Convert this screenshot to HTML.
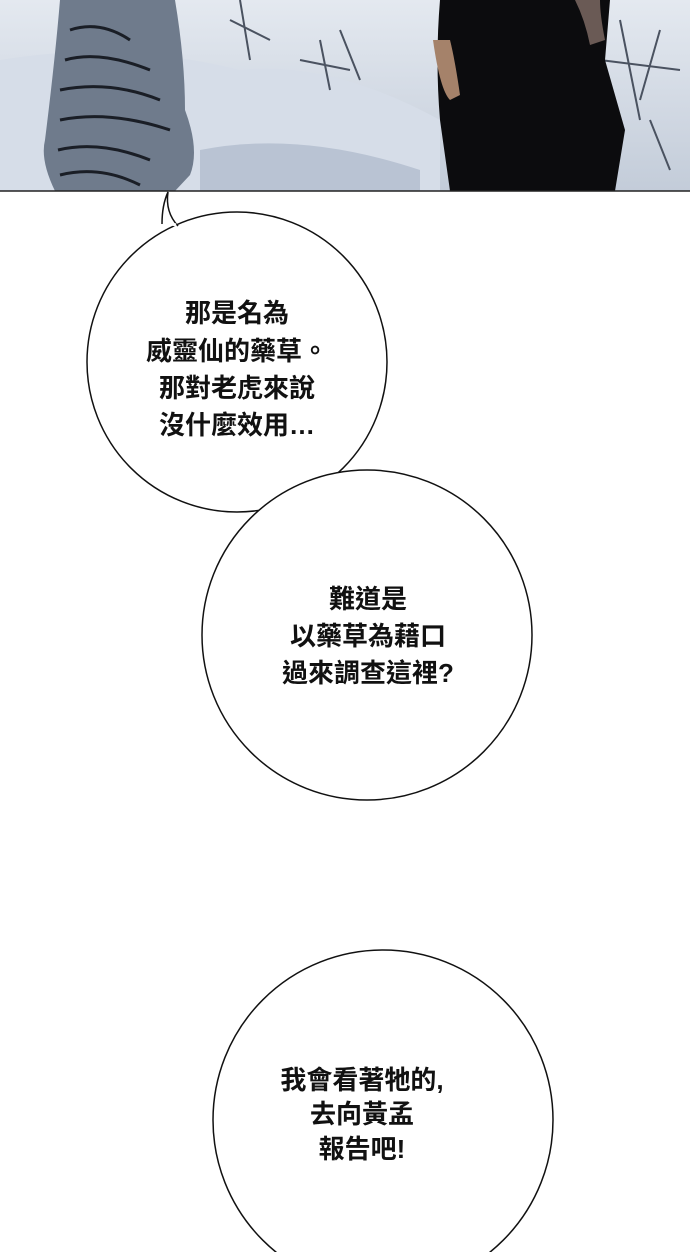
<!DOCTYPE html>
<html><head><meta charset="utf-8"><style>
body{margin:0;width:690px;height:1252px;background:#fff;overflow:hidden}
svg{display:block}
text{font-family:"Liberation Sans","Noto Sans CJK TC",sans-serif;font-weight:bold;font-size:26px;fill:#111;text-anchor:middle}
</style></head><body>
<svg width="690" height="1252" viewBox="0 0 690 1252">
<defs>
<linearGradient id="sn" x1="0" y1="0" x2="0" y2="1"><stop offset="0" stop-color="#e4e9f0"/><stop offset="1" stop-color="#c3ccd9"/></linearGradient>
</defs>
<rect x="0" y="0" width="690" height="191" fill="url(#sn)"/>
<path d="M0 60 Q120 40 240 70 Q330 60 440 120 L440 191 L0 191Z" fill="#d6dde8"/>
<path d="M200 150 Q300 130 420 170 L420 191 L200 191Z" fill="#b9c3d3"/>
<g stroke="#4a5260" stroke-width="2" fill="none">
<path d="M240 0 L250 60 M230 20 L270 40 M320 40 L330 90 M340 30 L360 80 M300 60 L350 70"/>
<path d="M620 20 L640 120 M660 30 L640 100 M600 60 L680 70 M650 120 L670 170"/>
</g>
<path d="M60 0 L175 0 Q185 60 185 110 Q200 150 190 175 L175 191 L55 191 Q40 160 45 140 Q55 60 60 0Z" fill="#6f7b8c"/>
<g stroke="#1a1e26" stroke-width="3" fill="none">
<path d="M70 30 Q100 20 130 40 M65 60 Q100 50 150 70 M60 90 Q110 80 160 100 M60 120 Q110 110 170 130 M58 150 Q100 140 150 160 M60 175 Q100 165 140 185"/>
</g>
<path d="M440 0 L610 0 L605 60 L625 130 L615 191 L450 191 L440 120 Q435 60 440 0Z" fill="#0c0c0e"/>
<path d="M433 40 Q440 90 450 100 L460 95 Q455 60 450 40Z" fill="#a5826a"/>
<path d="M575 0 Q585 20 590 45 L605 40 Q600 15 600 0Z" fill="#6a5a55"/>
<line x1="0" y1="191" x2="690" y2="191" stroke="#222" stroke-width="1.5"/>
<g fill="#fff" stroke="#111" stroke-width="1.5">
<circle cx="237" cy="362" r="150"/>
<circle cx="367" cy="635" r="165"/>
<circle cx="383" cy="1120" r="170"/>
</g>
<path d="M162 224 Q162 205 168 192 Q165 212 178 226" fill="#fff" stroke="#111" stroke-width="1.5"/>
<path d="M164 222 L176 225" stroke="#fff" stroke-width="3"/>
<text x="237" y="322">那是名為</text>
<text x="237" y="360">威靈仙的藥草。</text>
<text x="237" y="397">那對老虎來說</text>
<text x="237" y="434">沒什麼效用…</text>
<text x="368" y="608">難道是</text>
<text x="368" y="645">以藥草為藉口</text>
<text x="368" y="682">過來調查這裡?</text>
<text x="362" y="1089">我會看著牠的,</text>
<text x="362" y="1123">去向黃孟</text>
<text x="362" y="1158">報告吧!</text>
</svg>
</body></html>
